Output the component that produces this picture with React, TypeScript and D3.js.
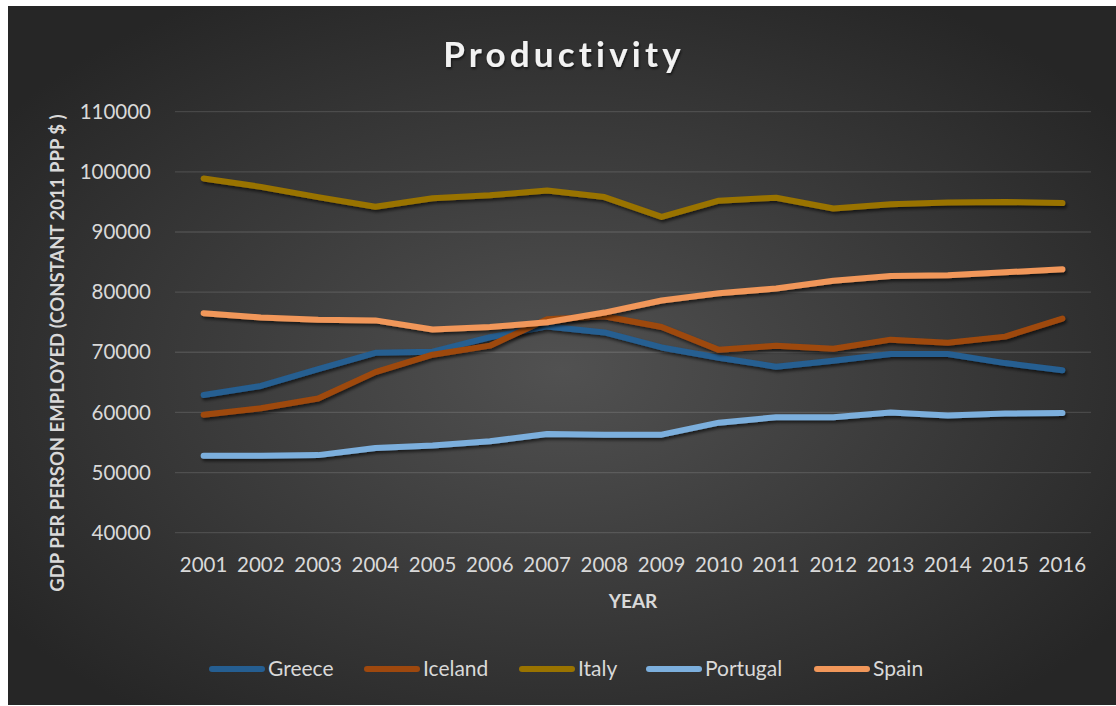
import React from "react";
import * as d3 from "d3";

const years = ["2001","2002","2003","2004","2005","2006","2007","2008","2009","2010","2011","2012","2013","2014","2015","2016"];
const greece = [62900,64400,67200,69900,70100,72500,74300,73300,70800,69100,67600,68600,69700,69700,68200,67000];
const iceland = [59600,60700,62300,66700,69600,71100,75500,76000,74200,70400,71100,70600,72100,71600,72600,75600];
const italy = [98900,97500,95800,94200,95600,96100,96900,95800,92500,95200,95700,93900,94600,94900,95000,94800];
const portugal = [52800,52800,52900,54100,54500,55200,56400,56300,56300,58300,59200,59200,60000,59500,59800,59900];
const spain = [76500,75800,75400,75300,73800,74200,75000,76600,78600,79800,80600,81900,82700,82800,83300,83800];
const yTicks = [40000,50000,60000,70000,80000,90000,100000,110000];
const seriesNames = ["Greece","Iceland","Italy","Portugal","Spain"];
const seriesColors = ["#255E91","#9E480E","#997300","#7CAFDD","#F1975A"];
const seriesData = [greece, iceland, italy, portugal, spain];

const FONT = "Lato, 'Open Sans', sans-serif";

export default function App() {
  const left = 175, right = 1091, top = 111.7, bottom = 532.7;
  const x = d3.scaleBand<string>().domain(years).range([left, right]).padding(0);
  const cx = (d: string) => (x(d) as number) + x.bandwidth() / 2;
  const y = d3.scaleLinear().domain([40000, 110000]).range([bottom, top]);
  const line = d3.line<number>().x((_, i) => cx(years[i])).y((v) => y(v));
  const legendX = [209, 364, 519, 646, 814];

  return (
    <svg width={1116} height={706} style={{ position: "absolute", left: 0, top: 0 }}>
      <defs>
        <radialGradient id="bg" cx="50%" cy="52%" r="62%">
          <stop offset="0%" stopColor="#515151" />
          <stop offset="100%" stopColor="#262626" />
        </radialGradient>
        <filter id="sh" x="-5%" y="-20%" width="110%" height="140%">
          <feDropShadow dx="1.5" dy="2.5" stdDeviation="1.6" floodColor="#000" floodOpacity="0.6" />
        </filter>
        <filter id="tsh" x="-5%" y="-20%" width="110%" height="150%">
          <feDropShadow dx="1" dy="2" stdDeviation="1.2" floodColor="#000" floodOpacity="0.55" />
        </filter>
      </defs>
      <rect x={8} y={6} width={1108} height={699} fill="url(#bg)" />
      <text x={564} y={67} textAnchor="middle" fontFamily={FONT} fontWeight="bold" fontSize={35}
        letterSpacing={4.2} fill="#f2f2f2" filter="url(#tsh)">Productivity</text>
      {yTicks.map((t) => (
        <g key={t}>
          <line x1={left} x2={right} y1={y(t)} y2={y(t)} stroke="#ffffff" strokeOpacity={0.12} strokeWidth={1.3} />
          <text x={151} y={y(t)} dy="0.35em" textAnchor="end" fontFamily={FONT} fontSize={20.5} fill="#d9d9d9">{t}</text>
        </g>
      ))}
      {years.map((yr) => (
        <text key={yr} x={cx(yr)} y={572} textAnchor="middle" fontFamily={FONT} fontSize={20.5} fill="#d9d9d9">{yr}</text>
      ))}
      <text x={633} y={608} textAnchor="middle" fontFamily={FONT} fontWeight="bold" fontSize={19} fill="#d9d9d9">YEAR</text>
      <text transform={`translate(64,353) rotate(-90)`} textAnchor="middle" fontFamily={FONT} fontWeight="bold"
        fontSize={18.5} fill="#d9d9d9">GDP PER PERSON EMPLOYED (CONSTANT 2011 PPP $ )</text>
      {seriesData.map((s, i) => (
        <path key={seriesNames[i]} d={line(s) || ""} fill="none" stroke={seriesColors[i]} strokeWidth={6}
          strokeLinecap="round" strokeLinejoin="round" filter="url(#sh)" />
      ))}
      {seriesNames.map((n, i) => (
        <g key={n}>
          <line x1={legendX[i] + 3} x2={legendX[i] + 53} y1={669} y2={669} stroke={seriesColors[i]} strokeWidth={6} strokeLinecap="round" />
          <text x={legendX[i] + 59} y={669} dy="0.35em" fontFamily={FONT} fontSize={21} fill="#d9d9d9">{n}</text>
        </g>
      ))}
    </svg>
  );
}
